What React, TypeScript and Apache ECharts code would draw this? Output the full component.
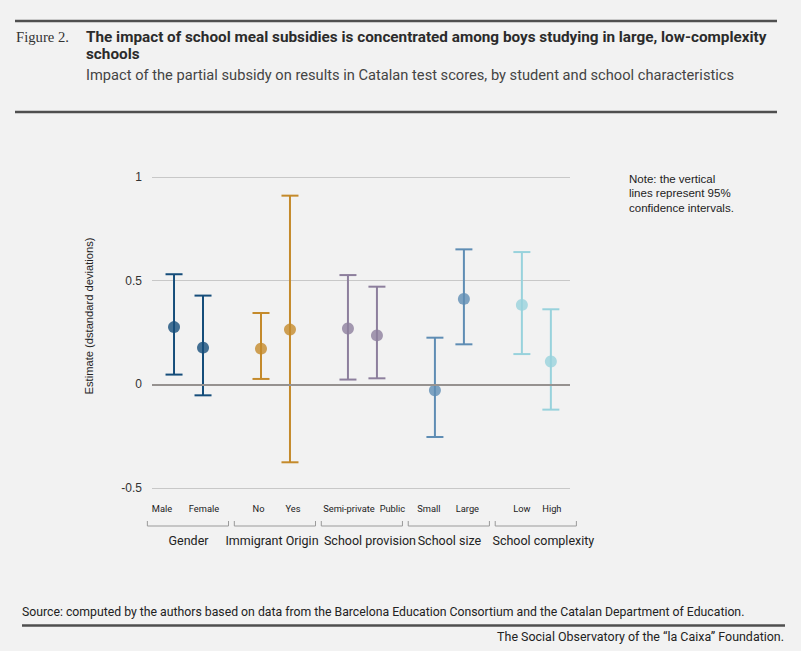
import React, { useEffect, useRef } from "react";
import * as echarts from "echarts";

// ---- Data ----
const groups = ["Gender", "Immigrant Origin", "School provision", "School size", "School complexity"];
const categories = ["Male", "Female", "No", "Yes", "Semi-private", "Public", "Small", "Large", "Low", "High"];
const groupOf = [0, 0, 1, 1, 2, 2, 3, 3, 4, 4];
const estimates = [0.276, 0.177, 0.172, 0.264, 0.269, 0.236, -0.029, 0.412, 0.383, 0.110];
const lowerCI = [0.047, -0.053, 0.026, -0.376, 0.023, 0.029, -0.254, 0.193, 0.146, -0.122];
const upperCI = [0.531, 0.428, 0.344, 0.910, 0.527, 0.471, 0.225, 0.651, 0.638, 0.362];
const yTicks = [-0.5, 0, 0.5, 1];

// ---- Styles / layout ----
const groupColors = ["#154d7a", "#c48a2b", "#8d7f9d", "#5f8db4", "#98d2dc"];
const catLabelShift = [-12, 1, -2.5, 3, 1, 15.5, -6, 3.5, 0, 1];
const groupLabelShift = [0, -3.5, 7.5, 0, 7];
const BG = "#f2f2f2";
const SANS = "'Liberation Sans', Arial, sans-serif";
const ROBOTO = "Roboto, 'Liberation Sans', sans-serif";
const SERIF = "'Liberation Serif', 'DejaVu Serif', serif";

// slot positions derived from group structure (one empty slot between groups)
const positions = categories.map((_, i) => {
  const g = groupOf[i];
  const first = groupOf.indexOf(g);
  return g * 3 + (i - first) + 1;
});
const groupMids = groups.map((_, g) => g * 3 + 1.5);

function measure(text: string, weight: string, size: number, family: string) {
  const ctx = document.createElement("canvas").getContext("2d");
  if (!ctx) return 0;
  ctx.font = `${weight} ${size}px ${family}`;
  return ctx.measureText(text).width;
}

function fitText(
  text: string, x: number, y: number, targetW: number, size: number, weight: string,
  family: string, fill: string, align: string = "left", rotation: number = 0
) {
  const w = measure(text, weight, size, family);
  const sx = w > 0 ? targetW / w : 1;
  return {
    type: "text", x, y, scaleX: sx, rotation,
    style: { text, fontSize: size, fontWeight: weight, fontFamily: family, fill, align, verticalAlign: "middle" },
  };
}

function shiftPadding(shift: number) {
  // shift a centered label horizontally using padding
  const pad = Math.abs(shift) * 2;
  return shift >= 0 ? [0, 0, 0, pad] : [0, pad, 0, 0];
}

export default function App() {
  const ref = useRef<HTMLDivElement>(null);

  useEffect(() => {
    if (!ref.current) return;
    const chart = echarts.init(ref.current, undefined, { renderer: "svg" });

    const catRich: any = {};
    categories.forEach((c, i) => {
      catRich["c" + i] = { padding: shiftPadding(catLabelShift[i]), fontSize: 9.3, fontFamily: ROBOTO, color: "#222" };
    });
    const groupRich: any = {};
    groups.forEach((g, i) => {
      groupRich["g" + i] = { padding: shiftPadding(groupLabelShift[i]), fontSize: 12.5, fontFamily: ROBOTO, color: "#222" };
    });

    const catByPos = (v: number) => {
      const idx = positions.findIndex((p) => Math.abs(p - v) < 0.01);
      return idx >= 0 ? `{c${idx}|${categories[idx]}}` : "";
    };
    const groupByPos = (v: number) => {
      const idx = groupMids.findIndex((p) => Math.abs(p - v) < 0.01);
      return idx >= 0 ? `{g${idx}|${groups[idx]}}` : "";
    };

    const title =
      "The impact of school meal subsidies is concentrated among boys studying in large, low-complexity";
    const titleScale = 681 / Math.max(1, measure(title, "bold", 15, ROBOTO));

    const option: any = {
      animation: false,
      backgroundColor: BG,
      grid: { left: 152, right: 231, top: 177, bottom: 163, containLabel: false },
      xAxis: [
        {
          type: "value",
          min: 0.24,
          max: 14.66,
          splitLine: { show: false },
          axisLine: { show: false },
          axisTick: { show: false },
          axisLabel: {
            customValues: positions,
            formatter: (v: number) => catByPos(v),
            rich: catRich,
            fontSize: 9.3,
            fontFamily: ROBOTO,
            color: "#222",
            margin: 16,
          },
        },
        {
          type: "value",
          min: 0.24,
          max: 14.66,
          position: "bottom",
          splitLine: { show: false },
          axisLine: { show: false },
          axisTick: { show: false },
          axisLabel: {
            customValues: groupMids,
            formatter: (v: number) => groupByPos(v),
            rich: groupRich,
            fontSize: 12.5,
            fontFamily: ROBOTO,
            color: "#222",
            margin: 46,
          },
        },
      ],
      yAxis: {
        type: "value",
        min: yTicks[0],
        max: yTicks[yTicks.length - 1],
        interval: 0.5,
        axisLine: { show: false },
        axisTick: { show: false },
        axisLabel: {
          formatter: (v: number) => String(v),
          fontSize: 12,
          fontFamily: SANS,
          color: "#333",
          margin: 10,
        },
        splitLine: { lineStyle: { color: "#c8c8c8", width: 1 } },
      },
      series: [
        {
          type: "custom",
          name: "ci",
          xAxisIndex: 0,
          clip: false,
          data: categories.map((_, i) => [positions[i], lowerCI[i], upperCI[i]]),
          renderItem: (params: any, api: any) => {
            const x = api.value(0);
            const lo = api.coord([x, api.value(1)]);
            const hi = api.coord([x, api.value(2)]);
            const color = groupColors[groupOf[params.dataIndex]];
            const cap = 8.5;
            const style = { stroke: color, lineWidth: 2 };
            return {
              type: "group",
              children: [
                { type: "line", shape: { x1: lo[0], y1: lo[1], x2: hi[0], y2: hi[1] }, style },
                { type: "line", shape: { x1: hi[0] - cap, y1: hi[1], x2: hi[0] + cap, y2: hi[1] }, style },
                { type: "line", shape: { x1: lo[0] - cap, y1: lo[1], x2: lo[0] + cap, y2: lo[1] }, style },
              ],
            };
          },
          z: 3,
        },
        {
          type: "scatter",
          name: "estimate",
          xAxisIndex: 0,
          symbolSize: 12,
          data: categories.map((_, i) => ({
            value: [positions[i], estimates[i]],
            itemStyle: { color: groupColors[groupOf[i]] },
          })),
          z: 4,
          markLine: {
            silent: true,
            symbol: "none",
            label: { show: false },
            lineStyle: { color: "#969290", width: 2, type: "solid" },
            data: [{ yAxis: 0 }],
          },
        },
        {
          type: "custom",
          name: "brackets",
          xAxisIndex: 0,
          clip: false,
          silent: true,
          data: groupMids.map((m) => [m - 1.42, m + 1.38]),
          renderItem: (params: any, api: any) => {
            const a = api.coord([api.value(0), yTicks[0]]);
            const b = api.coord([api.value(1), yTicks[0]]);
            const yb = a[1] + 38;
            return {
              type: "polyline",
              shape: { points: [[a[0], yb - 5], [a[0], yb], [b[0], yb], [b[0], yb - 5]] },
              style: { stroke: "#9a9a9a", lineWidth: 1, fill: "none" },
            };
          },
        },
      ],
      graphic: [
        { type: "line", shape: { x1: 15, y1: 21, x2: 777, y2: 21 }, style: { stroke: "#4f4f4f", lineWidth: 2.5 } },
        { type: "line", shape: { x1: 15, y1: 112, x2: 777, y2: 112 }, style: { stroke: "#4f4f4f", lineWidth: 2.5 } },
        fitText("Figure 2.", 16, 37, 53, 15, "normal", SERIF, "#333"),
        fitText(title, 86, 37.5, 681, 15, "bold", ROBOTO, "#2b2b2b"),
        {
          type: "text", x: 86, y: 54, scaleX: titleScale,
          style: { text: "schools", fontSize: 15, fontWeight: "bold", fontFamily: ROBOTO, fill: "#2b2b2b", verticalAlign: "middle" },
        },
        fitText(
          "Impact of the partial subsidy on results in Catalan test scores, by student and school characteristics",
          86, 75, 648, 14, "normal", ROBOTO, "#444"
        ),
        {
          type: "text", x: 629, y: 172,
          style: {
            text: "Note: the vertical\nlines represent 95%\nconfidence intervals.",
            fontSize: 11.5, fontFamily: SANS, fill: "#222", lineHeight: 14.2, verticalAlign: "top",
          },
        },
        fitText("Estimate (dstandard deviations)", 89, 316, 157, 11, "normal", SANS, "#222", "center", Math.PI / 2),
        fitText(
          "Source: computed by the authors based on data from the Barcelona Education Consortium and the Catalan Department of Education.",
          22, 611, 723, 13, "normal", ROBOTO, "#222"
        ),
        { type: "line", shape: { x1: 22, y1: 625.5, x2: 785, y2: 625.5 }, style: { stroke: "#4f4f4f", lineWidth: 2.5 } },
        fitText("The Social Observatory of the \u201Cla Caixa\u201D Foundation.", 784, 636.5, 287, 13, "normal", ROBOTO, "#222", "right"),
      ],
    };

    chart.setOption(option);
    return () => chart.dispose();
  }, []);

  return (
    <div
      ref={ref}
      style={{ position: "fixed", left: 0, top: 0, width: 801, height: 651, background: BG }}
    />
  );
}
